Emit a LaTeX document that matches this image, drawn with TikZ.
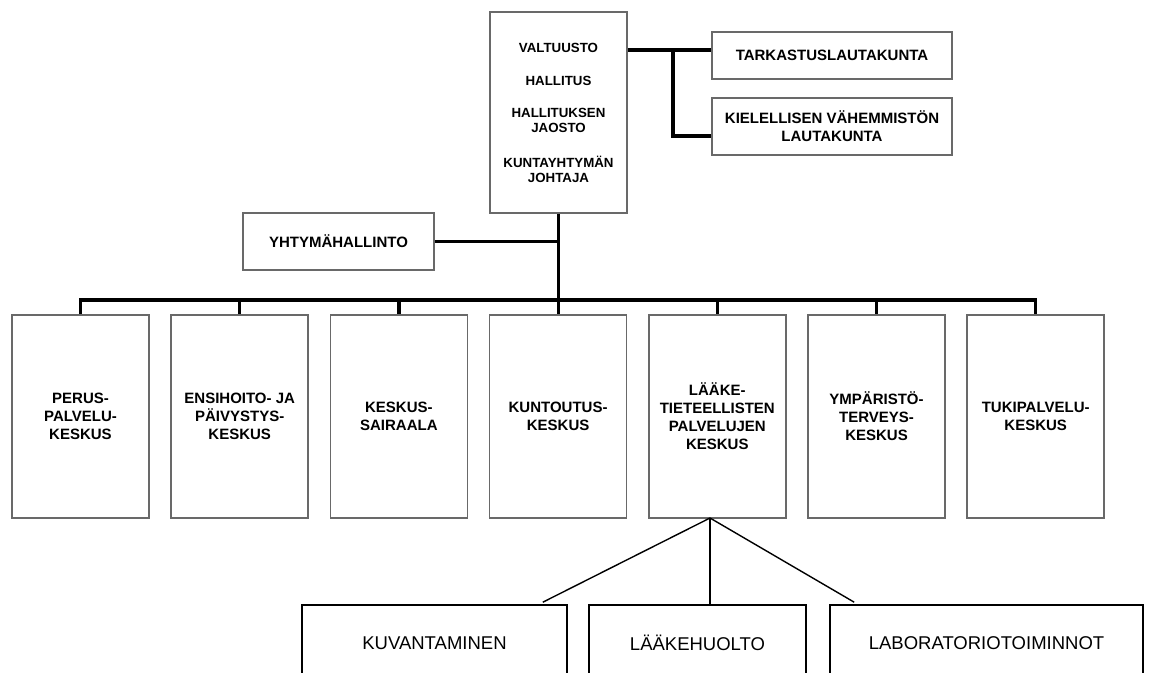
\documentclass[tikz,border=0pt]{standalone}
\usepackage{fontspec}
\setmainfont{Liberation Sans}
\definecolor{boxgray}{RGB}{105,105,105}
\begin{document}
\begin{tikzpicture}[x=1pt,y=-1pt,
  orgbox/.style={draw=boxgray, line width=1.6pt, fill=white, align=center,
    inner sep=0pt, font=\bfseries\fontsize{15}{18}\selectfont},
  unitbox/.style={orgbox, minimum width=137pt, minimum height=203pt},
  subbox/.style={draw=black, line width=1.6pt, fill=white, inner sep=0pt,
    minimum height=76pt, font=\fontsize{18.5}{22}\selectfont},
  bus/.style={line width=3.2pt},
  fan/.style={line width=1.4pt}]
\clip (0,0) rectangle (1150,672);
\fill[white] (0,0) rectangle (1150,672);

% governing bodies
\node[orgbox, minimum width=137pt, minimum height=201pt,
  font=\bfseries\fontsize{13.3}{15}\selectfont] (top) at (558.5,112.5)
  {VALTUUSTO\\[18pt]HALLITUS\\[17pt]HALLITUKSEN\\JAOSTO\\[20pt]KUNTAYHTYMÄN\\JOHTAJA};
\node[orgbox, minimum width=240pt, minimum height=47pt] (tark) at (832,55.5)
  {TARKASTUSLAUTAKUNTA};
\node[orgbox, minimum width=240pt, minimum height=57pt] (kiel) at (832,126.5)
  {KIELELLISEN VÄHEMMISTÖN\\LAUTAKUNTA};
\node[orgbox, minimum width=191pt, minimum height=57pt] (yht) at (338.5,241.5)
  {YHTYMÄHALLINTO};

% service centres
\node[unitbox] (b1) at (80.5,416.5)  {PERUS-\\PALVELU-\\KESKUS};
\node[unitbox] (b2) at (239.7,416.5) {ENSIHOITO- JA\\PÄIVYSTYS-\\KESKUS};
\node[unitbox] (b3) at (398.9,416.5) {KESKUS-\\SAIRAALA};
\node[unitbox] (b4) at (558.1,416.5) {KUNTOUTUS-\\KESKUS};
\node[unitbox] (b5) at (717.3,416.5) {LÄÄKE-\\TIETEELLISTEN\\PALVELUJEN\\KESKUS};
\node[unitbox] (b6) at (876.5,416.5) {YMPÄRISTÖ-\\TERVEYS-\\KESKUS};
\node[unitbox] (b7) at (1035.7,416.5) {TUKIPALVELU-\\KESKUS};

% medical services units
\node[subbox, minimum width=265pt] (kuv) at (434.5,643) {KUVANTAMINEN};
\node[subbox, minimum width=217pt] (laak) at (697.5,643) {LÄÄKEHUOLTO};
\node[subbox, minimum width=313pt] (lab) at (986.5,643) {LABORATORIOTOIMINNOT};

% connector junctions
\coordinate (hub) at (558.5,300);
\coordinate (jt) at (673,50);
\coordinate (jk) at (673,136);
\coordinate (apex) at (710,518);

% main trunk and bus
\draw[bus] (top.south) -- (hub);
\draw[bus] (yht.east) -- (yht.east -| hub);
\draw[bus] (b1.north) -- (b1.north |- hub) -- (b7.north |- hub) -- (b7.north);
\foreach \b in {b2,b3,b4,b5,b6}
  \draw[bus] (\b.north |- hub) -- (\b.north);

% side committees
\draw[bus] (top.east |- jt) -- (tark.west |- jt);
\draw[bus] (jt) -- (jk) -- (kiel.west |- jk);

% medical services branches
\draw[fan] (apex) -- ([xshift=-25pt,yshift=2pt]kuv.north east);
\draw[fan] (apex) -- (apex |- laak.north);
\draw[fan] (apex) -- ([xshift=25pt,yshift=2pt]lab.north west);
\end{tikzpicture}
\end{document}
